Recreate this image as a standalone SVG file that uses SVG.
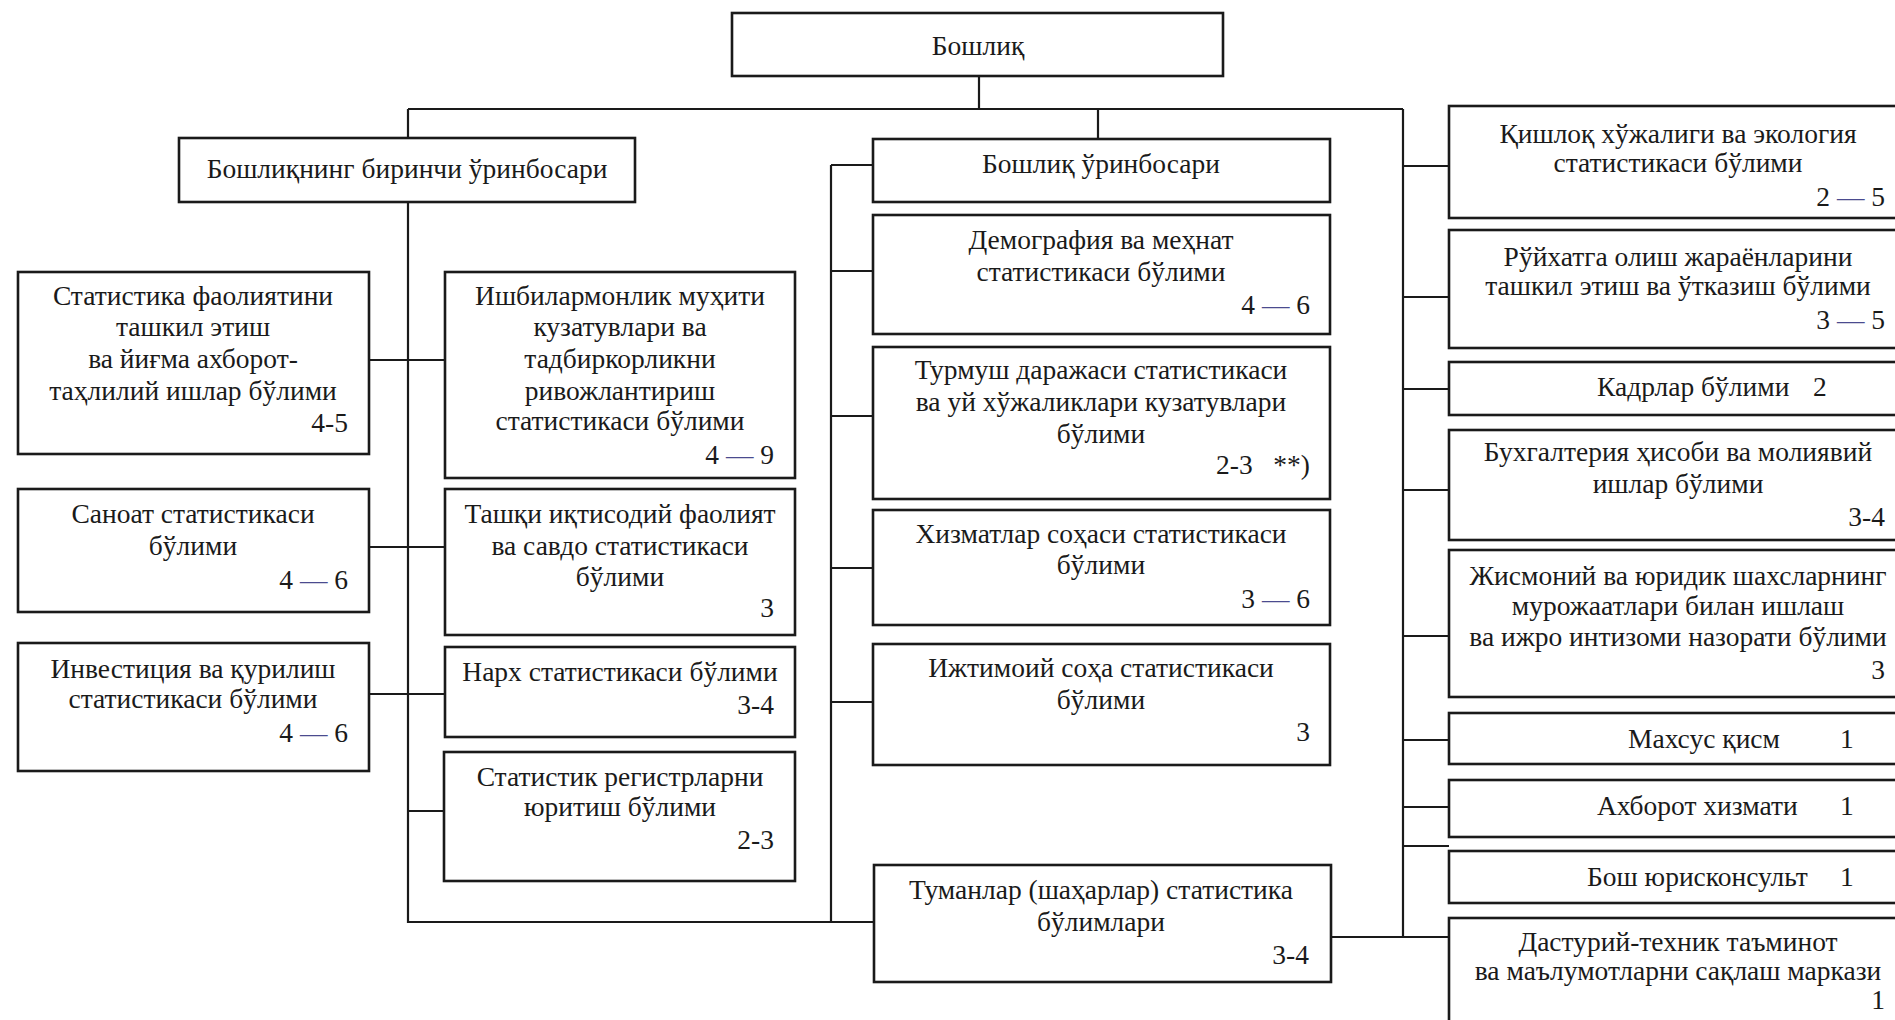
<svg xmlns="http://www.w3.org/2000/svg" width="1895" height="1020" viewBox="0 0 1895 1020">
<style>
.box{fill:#fff;stroke:#1a1a1a;stroke-width:2.6}
.ln{fill:none;stroke:#1a1a1a;stroke-width:2.2}
text{font-family:"Liberation Serif","Times New Roman",serif;font-size:27.5px;fill:#1a1a1a}
.c{text-anchor:middle}
.r{text-anchor:end}
.d{fill:#4b4b8f}
</style>
<rect width="1895" height="1020" fill="#fff"/>
<g id="connectors">
<path class="ln" d="M979 76V109M408 109H1403M408 109V138M1098 109V139M1403 109V937"/>
<path class="ln" d="M408 202V922H874M831 165V922"/>
<path class="ln" d="M831 165H873M831 271H873M831 416H873M831 568H873M831 702H873"/>
<path class="ln" d="M369 360H445M369 547H445M369 694H445M408 811H444"/>
<path class="ln" d="M1403 166H1449M1403 297H1449M1403 389H1449M1403 490H1449M1403 636H1449M1403 740H1449M1403 807H1449M1403 846H1449M1331 937H1449"/>
</g>
<g id="n-boshliq"><rect class="box" x="732" y="13" width="491" height="63"/><text class="c" x="978" y="55">Бошлиқ</text></g>
<g id="n-first-deputy"><rect class="box" x="179" y="138" width="456" height="64"/><text class="c" x="407" y="178">Бошлиқнинг биринчи ўринбосари</text></g>
<g id="n-deputy"><rect class="box" x="873" y="139" width="457" height="63"/><text class="c" x="1101" y="173">Бошлиқ ўринбосари</text></g>

<g id="n-a"><rect class="box" x="18" y="272" width="351" height="182"/>
<text class="c" x="193" y="305">Статистика фаолиятини</text>
<text class="c" x="193" y="336">ташкил этиш</text>
<text class="c" x="193" y="368">ва йиғма ахборот-</text>
<text class="c" x="193" y="400">таҳлилий ишлар бўлими</text>
<text class="r" x="348" y="432">4-5</text></g>
<g id="n-b"><rect class="box" x="445" y="272" width="350" height="206"/>
<text class="c" x="620" y="305">Ишбилармонлик муҳити</text>
<text class="c" x="620" y="336">кузатувлари ва</text>
<text class="c" x="620" y="368">тадбиркорликни</text>
<text class="c" x="620" y="400">ривожлантириш</text>
<text class="c" x="620" y="430">статистикаси бўлими</text>
<text class="r" x="774" y="464">4 <tspan class="d">—</tspan> 9</text></g>
<g id="n-c"><rect class="box" x="18" y="489" width="351" height="123"/>
<text class="c" x="193" y="523">Саноат статистикаси</text>
<text class="c" x="193" y="555">бўлими</text>
<text class="r" x="348" y="589">4 <tspan class="d">—</tspan> 6</text></g>
<g id="n-d"><rect class="box" x="445" y="489" width="350" height="146"/>
<text class="c" x="620" y="523">Ташқи иқтисодий фаолият</text>
<text class="c" x="620" y="555">ва савдо статистикаси</text>
<text class="c" x="620" y="586">бўлими</text>
<text class="r" x="774" y="617">3</text></g>
<g id="n-e"><rect class="box" x="18" y="643" width="351" height="128"/>
<text class="c" x="193" y="678">Инвестиция ва қурилиш</text>
<text class="c" x="193" y="708">статистикаси бўлими</text>
<text class="r" x="348" y="742">4 <tspan class="d">—</tspan> 6</text></g>
<g id="n-f"><rect class="box" x="445" y="647" width="350" height="90"/>
<text class="c" x="620" y="681">Нарх статистикаси бўлими</text>
<text class="r" x="774" y="714">3-4</text></g>
<g id="n-g"><rect class="box" x="444" y="752" width="351" height="129"/>
<text class="c" x="620" y="786">Статистик регистрларни</text>
<text class="c" x="620" y="816">юритиш бўлими</text>
<text class="r" x="774" y="849">2-3</text></g>

<g id="n-demo"><rect class="box" x="873" y="215" width="457" height="119"/>
<text class="c" x="1101" y="249">Демография ва меҳнат</text>
<text class="c" x="1101" y="281">статистикаси бўлими</text>
<text class="r" x="1310" y="314">4 <tspan class="d">—</tspan> 6</text></g>
<g id="n-turmush"><rect class="box" x="873" y="347" width="457" height="152"/>
<text class="c" x="1101" y="379">Турмуш даражаси статистикаси</text>
<text class="c" x="1101" y="411">ва уй хўжаликлари кузатувлари</text>
<text class="c" x="1101" y="443">бўлими</text>
<text class="r" x="1310" y="474" xml:space="preserve">2-3   **)</text></g>
<g id="n-xizmat"><rect class="box" x="873" y="510" width="457" height="115"/>
<text class="c" x="1101" y="543">Хизматлар соҳаси статистикаси</text>
<text class="c" x="1101" y="574">бўлими</text>
<text class="r" x="1310" y="608">3 <tspan class="d">—</tspan> 6</text></g>
<g id="n-ijtimoiy"><rect class="box" x="873" y="644" width="457" height="121"/>
<text class="c" x="1101" y="677">Ижтимоий соҳа статистикаси</text>
<text class="c" x="1101" y="709">бўлими</text>
<text class="r" x="1310" y="741">3</text></g>
<g id="n-tuman"><rect class="box" x="874" y="865" width="457" height="117"/>
<text class="c" x="1101" y="899">Туманлар (шаҳарлар) статистика</text>
<text class="c" x="1101" y="931">бўлимлари</text>
<text class="r" x="1309" y="964">3-4</text></g>

<g id="n-qishloq"><rect class="box" x="1449" y="106" width="460" height="112"/>
<text class="c" x="1678" y="143">Қишлоқ хўжалиги ва экология</text>
<text class="c" x="1678" y="172">статистикаси бўлими</text>
<text class="r" x="1885" y="206">2 <tspan class="d">—</tspan> 5</text></g>
<g id="n-royxat"><rect class="box" x="1449" y="230" width="460" height="118"/>
<text class="c" x="1678" y="266">Рўйхатга олиш жараёнларини</text>
<text class="c" x="1678" y="295">ташкил этиш ва ўтказиш бўлими</text>
<text class="r" x="1885" y="329">3 <tspan class="d">—</tspan> 5</text></g>
<g id="n-kadr"><rect class="box" x="1449" y="362" width="460" height="53"/>
<text x="1597" y="396">Кадрлар бўлими</text>
<text x="1813" y="396">2</text></g>
<g id="n-buxgalter"><rect class="box" x="1449" y="430" width="460" height="110"/>
<text class="c" x="1678" y="461">Бухгалтерия ҳисоби ва молиявий</text>
<text class="c" x="1678" y="493">ишлар бўлими</text>
<text class="r" x="1885" y="526">3-4</text></g>
<g id="n-jismoniy"><rect class="box" x="1449" y="550" width="460" height="147"/>
<text class="c" x="1678" y="585">Жисмоний ва юридик шахсларнинг</text>
<text class="c" x="1678" y="615">мурожаатлари билан ишлаш</text>
<text class="c" x="1678" y="646">ва ижро интизоми назорати бўлими</text>
<text class="r" x="1885" y="679">3</text></g>
<g id="n-maxsus"><rect class="box" x="1449" y="713" width="460" height="51"/>
<text x="1628" y="748">Махсус қисм</text>
<text x="1840" y="748">1</text></g>
<g id="n-axborot"><rect class="box" x="1449" y="780" width="460" height="57"/>
<text x="1597" y="815">Ахборот хизмати</text>
<text x="1840" y="815">1</text></g>
<g id="n-yuriskonsult"><rect class="box" x="1449" y="851" width="460" height="52"/>
<text x="1587" y="886">Бош юрисконсульт</text>
<text x="1840" y="886">1</text></g>
<g id="n-dasturiy"><rect class="box" x="1449" y="918" width="460" height="120"/>
<text class="c" x="1678" y="951">Дастурий-техник таъминот</text>
<text class="c" x="1678" y="980">ва маълумотларни сақлаш маркази</text>
<text class="r" x="1885" y="1009">1</text></g>
</svg>
